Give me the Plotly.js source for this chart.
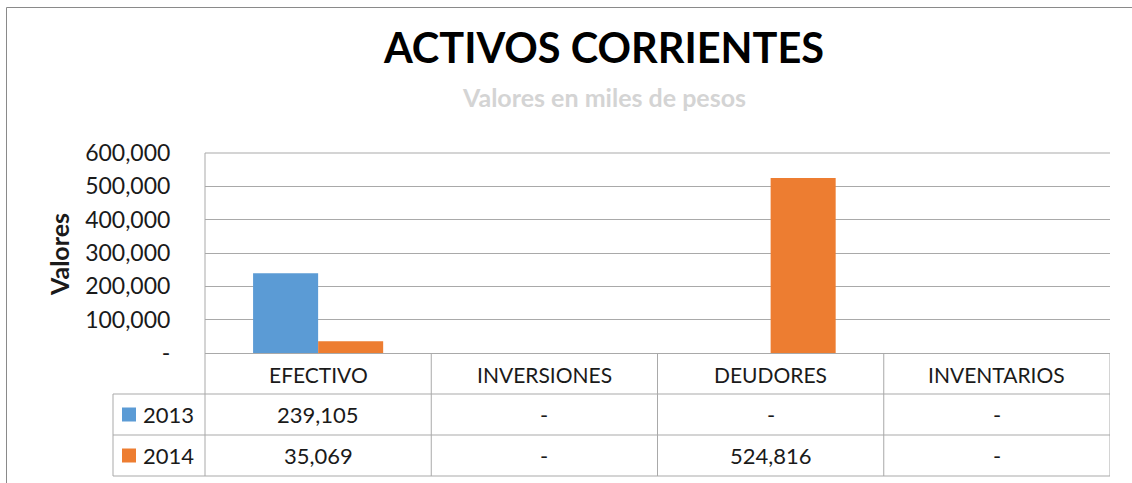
<!DOCTYPE html>
<html>
<head>
<meta charset="utf-8">
<script src="https://cdn.plot.ly/plotly-3.0.1.min.js"></script>
<style>html,body{margin:0;padding:0;background:#fff}#chart{width:1132px;height:483px}</style>
</head>
<body>
<div id="chart"></div>
<script>
// ---- data ----
const categories = ["EFECTIVO", "INVERSIONES", "DEUDORES", "INVENTARIOS"];
const seriesNames = ["2013", "2014"];
const values2013 = [239105, 0, 0, 0];
const values2014 = [35069, 0, 524816, 0];
const yTickVals = [0, 100000, 200000, 300000, 400000, 500000, 600000];
const yTickText = ["-", "100,000", "200,000", "300,000", "400,000", "500,000", "600,000"];
const seriesColors = ["#5B9BD5", "#ED7D31"];
const chartTitle = "ACTIVOS CORRIENTES";
const chartSubtitle = "Valores en miles de pesos";
const yTitle = "Valores";

const FONT = "Lato, 'Open Sans', sans-serif";
const TXT = "#1a1a1a";
const LINE = "#a9a9a9";

function fmt(v) { return v === 0 ? "-" : v.toLocaleString("en-US"); }

const allSeries = [values2013, values2014];
const traces = allSeries.map((vals, i) => ({
  type: "bar",
  x: categories,
  y: vals,
  name: seriesNames[i],
  marker: { color: seriesColors[i], line: { width: 0 } },
  hoverinfo: "x+y+name"
}));

// geometry helpers (pixel -> paper)
const L = 205, R = 1110, T = 153, B = 353;
const px = x => (x - L) / (R - L);
const py = y => (B - y) / (B - T);

const rowTop = [394, 435];
const rowBot = 476;
const leftColX = 113;

const shapes = [];
const line = (x0, y0, x1, y1, xref, color) => shapes.push({
  type: "line", xref: xref || "paper", yref: "paper", x0, y0, x1, y1,
  line: { color: color || LINE, width: 1 }, layer: "above"
});
// outer chart border (top & left)
line(px(6.5), py(7.5), px(1132), py(7.5), "paper", "#8a8a8a");
line(px(6.5), py(7.5), px(6.5), py(483), "paper", "#8a8a8a");
// top gridline of plot area
line(0, 1, 1, 1);
// table horizontal lines
rowTop.forEach(y => line(px(leftColX), py(y), 1, py(y)));
line(px(leftColX), py(rowBot), 1, py(rowBot));
// left column vertical
line(px(leftColX), py(rowTop[0]), px(leftColX), py(rowBot));
// vertical axis line through table
line(0, 1, 0, py(rowBot));
// category boundaries
for (let k = 0; k < categories.length; k++) {
  const xb = k + 0.5;
  shapes.push({ type: "line", xref: "x", yref: "paper", x0: xb, x1: xb, y0: 0, y1: py(rowBot),
    line: { color: LINE, width: 1 }, layer: "above" });
}
// legend keys
seriesNames.forEach((n, i) => {
  const cy = (rowTop[i] + (i === 0 ? rowTop[1] : rowBot)) / 2;
  shapes.push({ type: "rect", xref: "paper", yref: "paper",
    x0: px(122), x1: px(136), y0: py(cy - 7), y1: py(cy + 7),
    fillcolor: seriesColors[i], line: { width: 0 }, layer: "above" });
});

const annotations = [];
// subtitle
annotations.push({ text: "<b>" + chartSubtitle + "</b>", xref: "paper", yref: "paper",
  x: px(604), y: py(97), xanchor: "center", yanchor: "middle", showarrow: false,
  font: { family: FONT, size: 25, color: "#d4d4d4" } });
// y title
annotations.push({ text: "<b>" + yTitle + "</b>", xref: "paper", yref: "paper",
  x: px(59), y: py(255), xanchor: "center", yanchor: "middle", showarrow: false, textangle: -90,
  font: { family: FONT, size: 25, color: TXT } });
// header row
categories.forEach((c, k) => annotations.push({ text: c, xref: "x", yref: "paper",
  x: k, y: py(374), xanchor: "center", yanchor: "middle", showarrow: false,
  font: { family: FONT, size: 21, color: TXT } }));
// data rows
allSeries.forEach((vals, i) => {
  const cy = (rowTop[i] + (i === 0 ? rowTop[1] : rowBot)) / 2;
  annotations.push({ text: seriesNames[i], xref: "paper", yref: "paper",
    x: px(141), y: py(cy), xanchor: "left", yanchor: "middle", showarrow: false,
    font: { family: FONT, size: 22, color: TXT } });
  vals.forEach((v, k) => annotations.push({ text: fmt(v), xref: "x", yref: "paper",
    x: k, y: py(cy), xanchor: "center", yanchor: "middle", showarrow: false,
    font: { family: FONT, size: 22, color: TXT } }));
});

const layout = {
  width: 1132, height: 483,
  margin: { l: L, r: 1132 - R, t: T, b: 483 - B, pad: 0 },
  paper_bgcolor: "#fff", plot_bgcolor: "#fff",
  showlegend: false,
  barmode: "group", bargap: 0.425, bargroupgap: 0,
  title: { text: "<b>" + chartTitle + "</b>", x: 604 / 1132, xanchor: "center",
    y: 1 - 48 / 483, yanchor: "middle", yref: "container", xref: "container",
    font: { family: FONT, size: 41.5, color: "#000" } },
  xaxis: { type: "category", range: [-0.5, 3.5], showticklabels: false, showgrid: false,
    zeroline: false, showline: false, ticks: "", fixedrange: true },
  yaxis: { range: [0, 600000], tickvals: yTickVals, ticktext: yTickText,
    showgrid: true, gridcolor: LINE, gridwidth: 1, zeroline: true, zerolinecolor: LINE, zerolinewidth: 1,
    showline: false, ticks: "outside", ticklen: 29, tickcolor: "rgba(0,0,0,0)",
    tickfont: { family: FONT, size: 23, color: TXT }, fixedrange: true },
  shapes, annotations
};

Plotly.newPlot("chart", traces, layout, { displayModeBar: false, staticPlot: true });
</script>
</body>
</html>
